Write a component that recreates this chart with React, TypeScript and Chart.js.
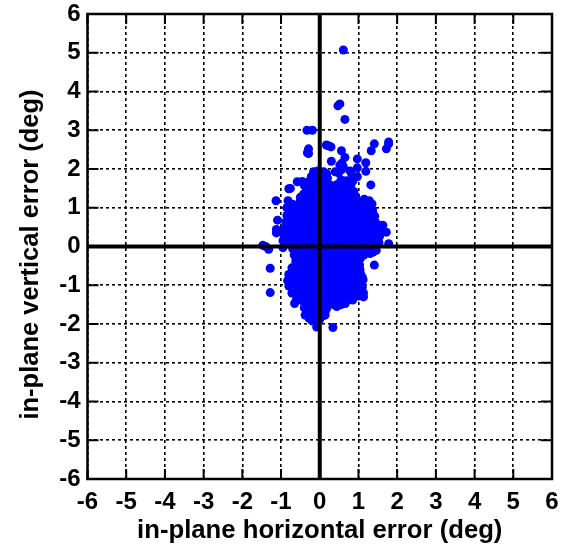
import React, { useEffect, useRef } from "react";
import { Chart, registerables } from "chart.js";

Chart.register(...registerables);

const tickValues = [-6, -5, -4, -3, -2, -1, 0, 1, 2, 3, 4, 5, 6];
const xTitle = "in-plane horizontal error (deg)";
const yTitle = "in-plane vertical error (deg)";

// Isolated points
const outliers: [number, number][] = [
  [0.61, 5.07], [0.52, 3.68], [0.47, 3.63], [0.65, 3.28], [-0.33, 3.0], [-0.19, 3.0],
  [-0.29, 2.52], [-0.32, 2.42], [-0.29, 2.4], [0.17, 2.62], [0.22, 2.6], [0.29, 2.57],
  [0.56, 2.47], [0.65, 2.3], [0.3, 2.2], [0.97, 2.26], [1.19, 2.16], [0.97, 2.03],
  [1.19, 1.94], [1.33, 2.47], [1.41, 2.65], [1.78, 2.7], [1.72, 2.52], [1.78, 2.65],
  [0.57, 2.15], [0.61, 2.06], [0.52, 2.1], [0.56, 1.98], [0.4, 1.93], [0.48, 1.9], [0.83, 1.85], [0.97, 1.8], [0.78, 1.95],
  [-0.8, 1.49], [-0.76, 1.5], [-1.13, 1.18], [-1.09, 0.68], [-1.12, 0.44], [-1.12, 0.35],
  [-1.47, 0.03], [-1.4, 0.0], [-1.32, -0.07], [-1.28, -0.56], [-1.28, -1.19],
  [1.32, 1.59], [1.78, 0.07], [1.72, 0.37], [1.63, 0.55], [1.52, 0.55], [1.41, -0.48],
  [-0.08, -2.08], [0.34, -2.09],
];

// Dense central cloud, row by row
const cloud: [number, number][] = [
  [-0.16, 1.93], [-0.05, 1.95], [0.1, 1.93], [0.18, 1.88], [-0.22, 1.8], [-0.1, 1.82], [0.05, 1.8], [0.2, 1.76],
  [-0.58, 1.67], [-0.45, 1.68], [-0.3, 1.66], [-0.15, 1.68], [0.02, 1.66], [0.16, 1.65], [0.55, 1.72], [0.68, 1.7], [0.85, 1.68],
  [-0.4, 1.58], [-0.25, 1.6], [-0.08, 1.58], [0.1, 1.6], [0.28, 1.58],[0.45, 1.6], [0.62, 1.6], [0.8, 1.58],
  [-0.35, 1.5], [-0.2, 1.52], [-0.05, 1.5], [0.12, 1.52], [0.3, 1.48], [0.45, 1.5], [0.62, 1.52], [0.78, 1.5], [0.88, 1.42],
  [-0.33, 1.43], [-0.15, 1.43], [0.02, 1.42], [0.2, 1.43], [0.38, 1.42], [0.55, 1.43], [0.72, 1.42],
  [-0.42, 1.35], [-0.25, 1.36], [-0.08, 1.34], [0.1, 1.36], [0.28, 1.33], [0.46, 1.35], [0.64, 1.33], [0.82, 1.35], [0.93, 1.3],
  [-0.5, 1.27], [-0.33, 1.27], [-0.16, 1.26], [0.02, 1.28], [0.2, 1.26], [0.38, 1.27], [0.56, 1.26], [0.74, 1.27], [0.92, 1.26],
  [-0.82, 1.18], [-0.78, 1.08], [-0.5, 1.18], [-0.33, 1.2], [-0.15, 1.18], [0.03, 1.2], [0.22, 1.17], [0.4, 1.2], [0.58, 1.18], [0.76, 1.19], [0.95, 1.17], [1.15, 1.22], [1.28, 1.18], [1.35, 1.1],
  [-0.7, 1.09], [-0.53, 1.09], [-0.35, 1.08], [-0.17, 1.09], [0.01, 1.08], [0.19, 1.09], [0.37, 1.08], [0.55, 1.09], [0.73, 1.08], [0.91, 1.09], [1.09, 1.08], [1.27, 1.09],
  [-0.8, 0.96], [-0.62, 1.0], [-0.44, 0.98], [-0.26, 1.0], [-0.08, 0.97], [0.1, 1.0], [0.28, 0.97], [0.46, 1.0], [0.64, 0.97], [0.82, 1.0], [1.0, 0.97], [1.18, 1.0], [1.36, 0.95],
  [-0.76, 0.89], [-0.59, 0.9], [-0.41, 0.89], [-0.23, 0.9], [-0.05, 0.89], [0.13, 0.9], [0.31, 0.89], [0.49, 0.9], [0.67, 0.89], [0.85, 0.9], [1.03, 0.89], [1.21, 0.9], [1.37, 0.88],
  [-0.85, 0.8], [-0.68, 0.82], [-0.5, 0.8], [-0.32, 0.82], [-0.14, 0.79], [0.04, 0.82], [0.22, 0.79], [0.4, 0.82], [0.58, 0.79], [0.76, 0.82], [0.94, 0.79], [1.12, 0.82], [1.3, 0.79], [1.42, 0.78],
  [-0.79, 0.72], [-0.6, 0.73], [-0.42, 0.72], [-0.24, 0.73], [-0.06, 0.72], [0.12, 0.73], [0.3, 0.72], [0.48, 0.73], [0.66, 0.72], [0.84, 0.73], [1.02, 0.72], [1.2, 0.73], [1.37, 0.72],
  [-0.88, 0.63], [-0.7, 0.64], [-0.52, 0.62], [-0.34, 0.64], [-0.16, 0.62], [0.02, 0.64], [0.2, 0.62], [0.38, 0.64], [0.56, 0.62], [0.74, 0.64], [0.92, 0.62], [1.1, 0.64], [1.28, 0.62], [1.44, 0.62],
  [-0.82, 0.55], [-0.64, 0.55], [-0.46, 0.54], [-0.28, 0.55], [-0.1, 0.54], [0.08, 0.55], [0.26, 0.54], [0.44, 0.55], [0.62, 0.54], [0.8, 0.55], [0.98, 0.54], [1.16, 0.55], [1.34, 0.54],
  [-0.92, 0.46], [-0.74, 0.46], [-0.56, 0.45], [-0.38, 0.47], [-0.2, 0.45], [-0.02, 0.47], [0.16, 0.45], [0.34, 0.47], [0.52, 0.45], [0.7, 0.47], [0.88, 0.45], [1.06, 0.47], [1.24, 0.45], [1.42, 0.47], [1.58, 0.46],
  [-0.84, 0.37], [-0.65, 0.37], [-0.47, 0.36], [-0.29, 0.38], [-0.11, 0.36], [0.07, 0.38], [0.25, 0.36], [0.43, 0.38], [0.61, 0.36], [0.79, 0.38], [0.97, 0.36], [1.15, 0.38], [1.33, 0.36], [1.5, 0.38],
  [-0.92, 0.28], [-0.74, 0.29], [-0.56, 0.27], [-0.38, 0.29], [-0.2, 0.27], [-0.02, 0.29], [0.16, 0.27], [0.34, 0.29], [0.52, 0.27], [0.7, 0.29], [0.88, 0.27], [1.06, 0.29], [1.24, 0.27], [1.42, 0.29], [1.55, 0.27],
  [-0.82, 0.2], [-0.63, 0.2], [-0.45, 0.19], [-0.27, 0.2], [-0.09, 0.19], [0.09, 0.2], [0.27, 0.19], [0.45, 0.2], [0.63, 0.19], [0.81, 0.2], [0.99, 0.19], [1.17, 0.2], [1.35, 0.19], [1.5, 0.2],
  [-0.9, 0.12], [-0.72, 0.11], [-0.54, 0.12], [-0.36, 0.1], [-0.18, 0.12], [0.0, 0.1], [0.18, 0.12], [0.36, 0.1], [0.54, 0.12], [0.72, 0.1], [0.9, 0.12], [1.08, 0.1], [1.26, 0.12], [1.44, 0.1], [1.53, 0.1],
  [-0.62, 0.03], [-0.45, 0.03], [-0.27, 0.02], [-0.09, 0.03], [0.09, 0.02], [0.27, 0.03], [0.45, 0.02], [0.63, 0.03], [0.81, 0.02], [0.99, 0.03], [1.17, 0.02], [1.35, 0.03],
  [-0.95, -0.03], [-0.7, -0.06], [-0.52, -0.05], [-0.34, -0.07], [-0.16, -0.05], [0.02, -0.07], [0.2, -0.05], [0.38, -0.07], [0.56, -0.05], [0.74, -0.07], [0.92, -0.05], [1.1, -0.07], [1.28, -0.05], [1.46, -0.1],
  [-0.6, -0.14], [-0.43, -0.15], [-0.25, -0.14], [-0.07, -0.15], [0.11, -0.14], [0.29, -0.15], [0.47, -0.14], [0.65, -0.15], [0.83, -0.14], [1.01, -0.15], [1.19, -0.14], [1.37, -0.15],
  [-0.66, -0.22], [-0.48, -0.22], [-0.3, -0.24], [-0.12, -0.22], [0.06, -0.24], [0.24, -0.22], [0.42, -0.24], [0.6, -0.22], [0.78, -0.24], [0.96, -0.22], [1.14, -0.22], [1.3, -0.18],
  [-0.55, -0.31], [-0.37, -0.31], [-0.19, -0.3], [-0.01, -0.31], [0.17, -0.3], [0.35, -0.31], [0.53, -0.3], [0.71, -0.31], [0.89, -0.3], [1.05, -0.31],
  [-0.62, -0.38], [-0.44, -0.4], [-0.26, -0.38], [-0.08, -0.4], [0.1, -0.38], [0.28, -0.4], [0.46, -0.38], [0.64, -0.4], [0.82, -0.38], [0.98, -0.4], [1.03, -0.48],
  [-0.53, -0.47], [-0.35, -0.47], [-0.17, -0.46], [0.01, -0.47], [0.19, -0.46], [0.37, -0.47], [0.55, -0.46], [0.73, -0.47], [0.91, -0.46],
  [-0.72, -0.55], [-0.55, -0.55], [-0.34, -0.57], [-0.16, -0.55], [0.02, -0.57], [0.2, -0.55], [0.38, -0.57], [0.56, -0.55], [0.74, -0.57], [0.92, -0.55], [1.04, -0.6],
  [-0.7, -0.64], [-0.45, -0.64], [-0.27, -0.64], [-0.09, -0.65], [0.09, -0.64], [0.27, -0.65], [0.45, -0.64], [0.63, -0.65], [0.81, -0.64], [0.99, -0.65],
  [-0.8, -0.72], [-0.62, -0.72], [-0.36, -0.74], [-0.2, -0.72], [-0.02, -0.74], [0.16, -0.72], [0.34, -0.74], [0.52, -0.72], [0.7, -0.74], [0.88, -0.72], [1.06, -0.72],
  [-0.72, -0.8], [-0.44, -0.81], [-0.29, -0.8], [-0.11, -0.81], [0.07, -0.8], [0.25, -0.81], [0.43, -0.8], [0.61, -0.81], [0.79, -0.8], [0.97, -0.81], [1.1, -0.8],
  [-0.83, -0.88], [-0.66, -0.88], [-0.42, -0.9], [-0.24, -0.88], [-0.06, -0.9], [0.12, -0.88], [0.3, -0.9], [0.48, -0.88], [0.66, -0.9], [0.84, -0.88], [1.02, -0.9], [1.12, -0.86],
  [-0.36, -0.97], [-0.17, -0.97], [0.01, -0.98], [0.19, -0.97], [0.37, -0.98], [0.55, -0.97], [0.73, -0.98], [0.91, -0.97], [1.08, -0.98],
  [-0.8, -1.02], [-0.5, -1.05], [-0.32, -1.05], [-0.14, -1.07], [0.04, -1.05], [0.22, -1.07], [0.4, -1.05], [0.58, -1.07], [0.76, -1.05], [0.94, -1.07], [1.1, -1.05],
  [-0.42, -1.13], [-0.24, -1.14], [-0.06, -1.13], [0.12, -1.14], [0.3, -1.13], [0.48, -1.14], [0.66, -1.13], [0.84, -1.14], [1.02, -1.13],
  [-0.72, -1.2], [-0.55, -1.18], [-0.38, -1.18], [-0.2, -1.22], [-0.02, -1.22], [0.16, -1.22], [0.34, -1.22], [0.52, -1.22], [0.7, -1.22], [0.88, -1.22], [1.02, -1.18], [1.13, -1.2],
  [-0.32, -1.3], [-0.12, -1.3], [0.06, -1.3], [0.24, -1.3], [0.42, -1.3], [0.6, -1.3], [0.78, -1.3],
  [-0.6, -1.36], [-0.42, -1.3], [-0.28, -1.38], [-0.1, -1.38], [0.08, -1.38], [0.26, -1.38], [0.44, -1.38], [0.62, -1.42], [0.75, -1.35],
  [-0.22, -1.45], [-0.05, -1.45], [0.12, -1.45], [0.3, -1.45], [0.45, -1.44],
  [-0.32, -1.52], [-0.15, -1.52], [0.02, -1.54], [0.18, -1.52], [0.36, -1.5], [0.5, -1.48],
  [-0.22, -1.6], [-0.05, -1.6], [0.1, -1.6], [0.18, -1.6],
  [-0.32, -1.65], [-0.14, -1.68], [0.02, -1.68], [0.15, -1.66],
  [-0.18, -1.8], [-0.04, -1.8], [0.1, -1.78], [-0.14, -1.9], [0.0, -1.88],
];

// Points along the lower edge of the cloud
const cloudEdge: [number, number][] = [
  [-0.65, -1.47], [-0.6, -1.05], [-0.62, -1.2], [-0.5, -1.28], [-0.45, -1.4], [-0.38, -1.45],
  [-0.4, -1.58], [-0.38, -1.77], [-0.28, -1.85], [-0.2, -1.92], [0.14, -1.77], [0.44, -1.55],
  [0.66, -1.47], [0.55, -1.5], [0.9, -1.3], [1.0, -1.28], [0.85, -1.38], [1.13, -1.3],
  [-0.62, -0.9], [-0.58, -0.8], [-0.55, -0.66], [-0.85, 1.0], [-0.95, 0.15],
];

const points = [...outliers, ...cloud, ...cloudEdge];
const horizontalAxisLine = [-6, 6];
const verticalAxisLine = [-6, 6];

const FONT = "'Liberation Sans', Arial, sans-serif";

const frameAndTitle = {
  id: "frameAndTitle",
  afterDatasetsDraw(chart: any) {
    const { ctx, chartArea: a, scales: { x, y } } = chart;
    ctx.save();
    ctx.strokeStyle = "#000";
    ctx.lineWidth = 2;
    ctx.setLineDash([]);
    ctx.beginPath();
    for (const t of tickValues) {
      const px = x.getPixelForValue(t);
      const py = y.getPixelForValue(t);
      ctx.moveTo(px, a.top); ctx.lineTo(px, a.top + 10);
      ctx.moveTo(px, a.bottom); ctx.lineTo(px, a.bottom - 10);
      ctx.moveTo(a.left, py); ctx.lineTo(a.left + 11, py);
      ctx.moveTo(a.right, py); ctx.lineTo(a.right - 11, py);
    }
    ctx.stroke();
    ctx.lineWidth = 2.5;
    ctx.strokeRect(a.left, a.top, a.right - a.left, a.bottom - a.top);
    ctx.translate(31, y.getPixelForValue(0) + 8);
    ctx.rotate(-Math.PI / 2);
    ctx.fillStyle = "#000";
    ctx.font = `bold 25.5px ${FONT}`;
    ctx.textAlign = "center";
    ctx.textBaseline = "middle";
    ctx.fillText(yTitle, 0, 0);
    ctx.restore();
  },
};

export default function App() {
  const ref = useRef<HTMLCanvasElement>(null);
  useEffect(() => {
    const makeScale = (isX: boolean) => ({
      type: "linear" as const,
      min: -6,
      max: 6,
      afterBuildTicks: (s: any) => { s.ticks = tickValues.map((value) => ({ value })); },
      afterFit: (s: any) => {
        if (isX) s.height = 67; else s.width = 87.5;
        s.paddingTop = 0;
        s.paddingBottom = 0;
        s.paddingLeft = 0;
        s.paddingRight = 0;
      },
      border: { display: false, dash: [3, 3] },
      grid: {
        color: "#000",
        lineWidth: 1.6,
        drawTicks: false,
      },
      ticks: {
        color: "#000",
        autoSkip: false,
        maxRotation: 0,
        padding: isX ? 9 : 7,
        font: { family: FONT, size: 24, weight: "bold" as const },
      },
    });
    const xScale: any = makeScale(true);
    xScale.title = {
      display: true,
      text: xTitle,
      color: "#000",
      padding: { top: 0, bottom: 0 },
      font: { family: FONT, size: 25.7, weight: "bold" as const },
    };
    const chart = new Chart(ref.current!, {
      type: "scatter",
      data: {
        datasets: [
          {
            type: "line",
            data: horizontalAxisLine.map((x) => ({ x, y: 0 })),
            borderColor: "#000",
            borderWidth: 4,
            pointRadius: 0,
            order: 0,
          },
          {
            type: "line",
            data: verticalAxisLine.map((y) => ({ x: 0, y })),
            borderColor: "#000",
            borderWidth: 4,
            pointRadius: 0,
            order: 0,
          },
          {
            data: points.map(([x, y]) => ({ x, y })),
            backgroundColor: "#0000ff",
            borderColor: "#0000ff",
            borderWidth: 0,
            pointRadius: 4.5,
            order: 1,
          },
        ],
      } as any,
      options: {
        animation: false,
        responsive: false,
        layout: { padding: { top: 14, right: 19, left: 0, bottom: 0 } },
        plugins: { legend: { display: false }, tooltip: { enabled: false } },
        scales: { x: xScale, y: makeScale(false) },
      } as any,
      plugins: [frameAndTitle],
    });
    return () => chart.destroy();
  }, []);
  return (
    <canvas
      ref={ref}
      width={571}
      height={546}
      style={{ position: "absolute", left: 0, top: 0, width: 571, height: 546 }}
    />
  );
}
